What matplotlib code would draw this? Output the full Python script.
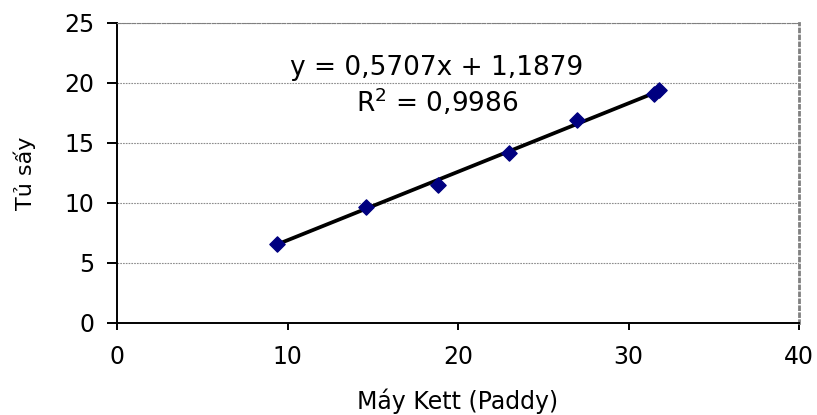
import numpy as np
import matplotlib.pyplot as plt

plt.rcParams['font.family'] = ['DejaVu Sans']

# do am: may Kett (Paddy) vs tu say
kett = [9.4, 14.6, 18.8, 23.0, 27.0, 31.5, 31.8]
tu_say = [6.6, 9.7, 11.5, 14.2, 16.9, 19.1, 19.4]

slope = 0.5707
intercept = 1.1879
r2 = 0.9986

fig = plt.figure(figsize=(8.17, 4.15), dpi=100)
ax = fig.add_axes([0.1432, 0.2217, 0.8348, 0.7229])

xs = np.array([min(kett), max(kett)])
ax.plot(xs, slope * xs + intercept, color='black', linewidth=2.7, zorder=3)
ax.scatter(kett, tu_say, marker='D', s=60, color='#000080', zorder=4)

ax.set_xlim(0, 40)
ax.set_ylim(0, 25)
ax.set_xticks([0, 10, 20, 30, 40])
ax.set_yticks([0, 5, 10, 15, 20, 25])
ax.yaxis.grid(True, color='#8c8c8c', linestyle=(0, (1.5, 1)), linewidth=0.8)
ax.set_axisbelow(True)

ax.spines['left'].set_linewidth(1.4)
ax.spines['bottom'].set_linewidth(1.4)
ax.spines['top'].set_color('#808080')
ax.spines['top'].set_linestyle((0, (3, 1.5)))
ax.spines['right'].set_color('#808080')
ax.spines['right'].set_linestyle((0, (1, 1.5)))
ax.spines['right'].set_linewidth(2)
ax.tick_params(direction='out', width=1.4, labelsize=17)
ax.tick_params(axis='x', length=5, pad=11)
ax.tick_params(axis='y', length=7.5, pad=9)

eq = f"y = {slope:.4f}x + {intercept:.4f}".replace('.', ',')
ax.text(18.77, 20.67, eq, ha='center', va='baseline', fontsize=19)
ax.text(18.77, 17.58, f"R$^2$ = {r2:.4f}".replace('.', ','), ha='center', va='baseline', fontsize=19)

ax.set_xlabel("Máy Kett (Paddy)", fontsize=17, labelpad=14)
ax.set_ylabel("Tủ sấy", fontsize=16, labelpad=20)

fig.savefig('out.png', dpi=100)
